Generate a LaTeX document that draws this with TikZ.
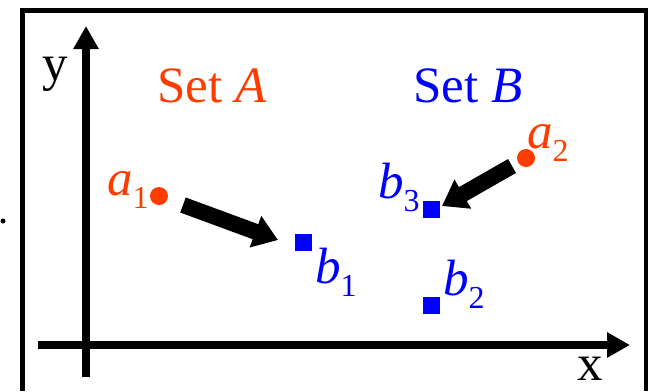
\documentclass[tikz,border=0pt]{standalone}
\usepackage{fontspec}
\setmainfont{Liberation Serif}
\usetikzlibrary{arrows.meta}
\definecolor{setred}{RGB}{255,60,0}
\definecolor{setblue}{RGB}{0,0,255}
\newcommand{\ptlabel}[2]{\itshape #1\normalfont\raisebox{-13pt}{\fontsize{32}{32}\selectfont #2}}
\begin{document}
\begin{tikzpicture}[x=1pt,y=-1pt,
  big/.style={font=\fontsize{51}{51}\selectfont, inner sep=0pt, anchor=base west},
  ptA/.style={circle, fill=setred, minimum size=18pt, inner sep=0pt},
  ptB/.style={rectangle, fill=setblue, minimum size=17pt, inner sep=0pt},
  axisline/.style={line width=8pt, -{Triangle[width=24pt,length=23pt]}},
  bigarrow/.style={line width=16pt, -{Triangle[width=32pt,length=24pt]}},
]
\useasboundingbox (0,0) rectangle (650,391);
% frame
\draw[line width=4.5pt, line join=miter] (22.5,391) -- (22.5,10.5) -- (646,10.5) -- (646,391);
% stray mark at left edge
\fill (3,221) circle (2.5);
% axes
\coordinate (yb) at (86,377);
\coordinate (yt) at (86,26);
\coordinate (xl) at (38,345);
\coordinate (xr) at (630,345);
\draw[axisline] (yb) -- (yt);
\draw[axisline] (xl) -- (xr);
\node[big] (ylab) at (42,80) {y};
\node[big] (xlab) at (577,380) {x};
% set titles
\node[big, text=setred] (setA) at (157,102) {Set \textit{A}};
\node[big, text=setblue] (setB) at (413,102) {Set \textit{B}};
% points
\node[ptA] (a1) at (159,196) {};
\node[ptA] (a2) at (526,158) {};
\node[ptB] (b1) at (303,242) {};
\node[ptB] (b2) at (431,305) {};
\node[ptB] (b3) at (431,209.5) {};
% point labels
\node[big, text=setred] (la1) at (107,195) {\ptlabel{a}{1}};
\node[big, text=setred] (la2) at (527,148) {\ptlabel{a}{2}};
\node[big, text=setblue] (lb1) at (315,283) {\ptlabel{b}{1}};
\node[big, text=setblue] (lb2) at (443,295) {\ptlabel{b}{2}};
\node[big, text=setblue] (lb3) at (378,198) {\ptlabel{b}{3}};
% arrows
\draw[bigarrow] ([xshift=24pt,yshift=-9pt]a1.center) -- ([xshift=-25pt,yshift=2pt]b1.center);
\draw[bigarrow] ([xshift=-14pt,yshift=-8pt]a2.center) -- ([xshift=11pt,yshift=3.5pt]b3.center);
\end{tikzpicture}
\end{document}
